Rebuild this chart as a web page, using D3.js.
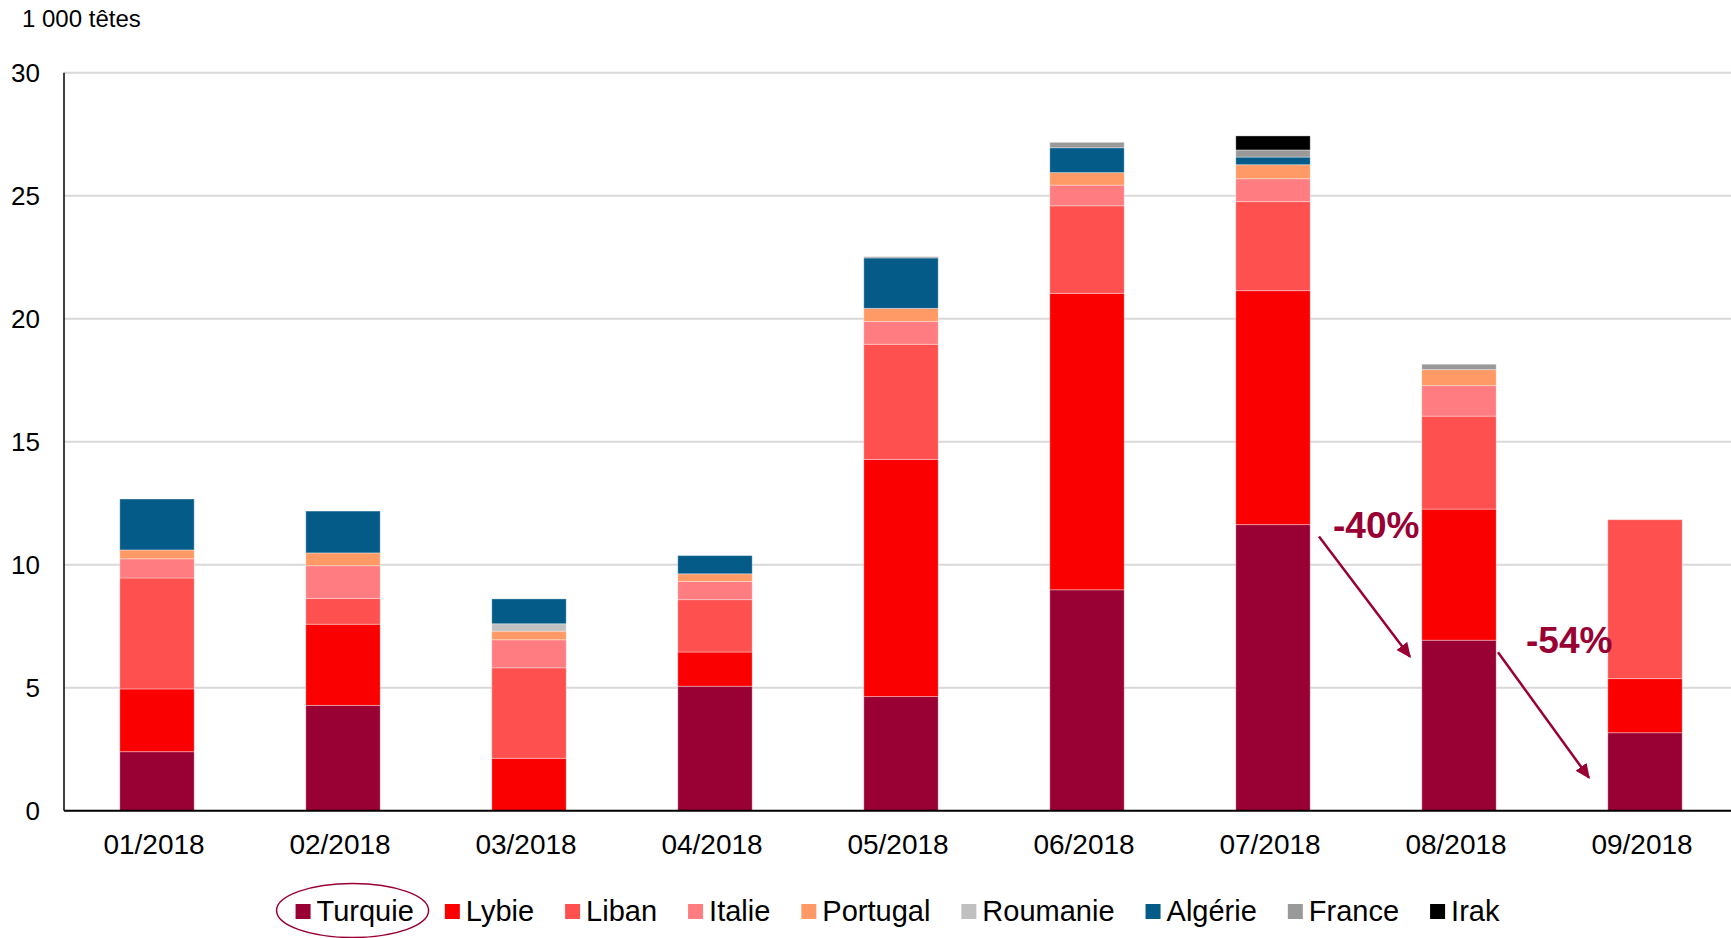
<!DOCTYPE html>
<html>
<head>
<meta charset="utf-8">
<script src="https://cdn.jsdelivr.net/npm/d3@7"></script>
<style>
  body { margin: 0; background: #fff; }
  text { font-family: "Liberation Sans", Arial, sans-serif; }
</style>
</head>
<body>
<div id="chart"></div>
<script>
const months = ["01/2018", "02/2018", "03/2018", "04/2018", "05/2018", "06/2018", "07/2018", "08/2018", "09/2018"];
const countries = ["Turquie", "Lybie", "Liban", "Italie", "Portugal", "Roumanie", "Algérie", "France", "Irak"];
const colors = ["#990033", "#FA0000", "#FF5050", "#FF7C80", "#FF9966", "#C0C0C0", "#045B88", "#999999", "#000000"];

const turquie  = [2.40, 4.28, 0.00, 5.06, 4.64, 8.98, 11.63, 6.93, 3.17];
const lybie    = [2.55, 3.30, 2.13, 1.39, 9.64, 12.05, 9.51, 5.33, 2.20];
const liban    = [4.51, 1.05, 3.68, 2.13, 4.68, 3.56, 3.62, 3.78, 6.46];
const italie   = [0.78, 1.33, 1.14, 0.74, 0.93, 0.84, 0.93, 1.24, 0.00];
const portugal = [0.36, 0.52, 0.35, 0.31, 0.53, 0.51, 0.57, 0.65, 0.00];
const roumanie = [0.00, 0.00, 0.30, 0.00, 0.00, 0.00, 0.00, 0.00, 0.00];
const algerie  = [2.07, 1.70, 1.01, 0.74, 2.05, 1.01, 0.31, 0.00, 0.00];
const france   = [0.00, 0.00, 0.00, 0.00, 0.05, 0.22, 0.29, 0.22, 0.00];
const irak     = [0.00, 0.00, 0.00, 0.00, 0.00, 0.00, 0.57, 0.00, 0.00];

const yTicks = [0, 5, 10, 15, 20, 25, 30];

// Turquie change annotations: from month index, label
const annoFrom = [6, 7];
const annoLabels = ["-40%", "-54%"];

const series = [turquie, lybie, liban, italie, portugal, roumanie, algerie, france, irak];

const width = 1731, height = 938;
const plotLeft = 64, plotRight = 1738, plotTop = 72.7, plotBottom = 810.7;

const svg = d3.select("#chart").append("svg")
    .attr("width", width)
    .attr("height", height);

const x = d3.scaleBand()
    .domain(months)
    .range([plotLeft, plotRight])
    .paddingInner(0.6)
    .paddingOuter(0.3);

const y = d3.scaleLinear()
    .domain([0, 30])
    .range([plotBottom, plotTop]);

// unit label
svg.append("text")
    .attr("x", 22)
    .attr("y", 27)
    .attr("font-size", 24)
    .attr("fill", "#000")
    .text("1 000 têtes");

// gridlines
svg.append("g")
    .selectAll("line")
    .data(yTicks.filter(d => d > 0))
    .enter().append("line")
    .attr("x1", plotLeft)
    .attr("x2", width)
    .attr("y1", d => y(d))
    .attr("y2", d => y(d))
    .attr("stroke", "#D9D9D9")
    .attr("stroke-width", 2);

// y labels
svg.append("g")
    .selectAll("text")
    .data(yTicks)
    .enter().append("text")
    .attr("x", 40)
    .attr("y", d => y(d))
    .attr("dy", "0.36em")
    .attr("text-anchor", "end")
    .attr("font-size", 26)
    .text(d => d);

// stacked bars
const rows = months.map((m, i) => {
    const r = { month: m };
    countries.forEach((c, k) => r[c] = series[k][i]);
    return r;
});
const stack = d3.stack().keys(countries)(rows);

svg.append("g")
    .selectAll("g")
    .data(stack)
    .enter().append("g")
    .attr("fill", (d, i) => colors[i])
    .selectAll("rect")
    .data(d => d.filter(s => s[1] - s[0] > 0))
    .enter().append("rect")
    .attr("x", d => x(d.data.month))
    .attr("width", x.bandwidth())
    .attr("y", d => y(d[1]))
    .attr("height", d => y(d[0]) - y(d[1]))
    .attr("stroke", "#fff")
    .attr("stroke-opacity", 0.35)
    .attr("stroke-width", 1);

// axes lines
svg.append("line")
    .attr("x1", plotLeft).attr("x2", plotLeft)
    .attr("y1", y(30)).attr("y2", y(0))
    .attr("stroke", "#000")
    .attr("stroke-width", 1.5);

svg.append("line")
    .attr("x1", plotLeft).attr("x2", width)
    .attr("y1", y(0)).attr("y2", y(0))
    .attr("stroke", "#000")
    .attr("stroke-width", 2);

// x labels
svg.append("g")
    .selectAll("text")
    .data(months)
    .enter().append("text")
    .attr("x", d => x(d) + x.bandwidth() / 2 - 3)
    .attr("y", 854)
    .attr("text-anchor", "middle")
    .attr("font-size", 28)
    .text(d => d);

// annotations
const annoColor = "#990033";
svg.append("defs").append("marker")
    .attr("id", "arrow")
    .attr("viewBox", "0 -5 10 10")
    .attr("refX", 9)
    .attr("refY", 0)
    .attr("markerWidth", 6)
    .attr("markerHeight", 6)
    .attr("markerUnits", "strokeWidth")
    .attr("orient", "auto")
    .append("path")
    .attr("d", "M0,-4.5L10,0L0,4.5Z")
    .attr("fill", annoColor);

annoFrom.forEach((i, k) => {
    const c0 = x(months[i]) + x.bandwidth() / 2;
    const c1 = x(months[i + 1]) + x.bandwidth() / 2;
    const y0 = y(turquie[i]);
    const y1 = y(turquie[i + 1]);
    const x1 = k === 0 ? c1 - 49 : c1 - 56;
    const ye = k === 0 ? y1 + 16.5 : y(1.34);
    svg.append("line")
        .attr("x1", k === 0 ? c0 + 46 : c0 + 39)
        .attr("y1", y0 + 12)
        .attr("x2", x1)
        .attr("y2", ye)
        .attr("stroke", annoColor)
        .attr("stroke-width", 2.5)
        .attr("marker-end", "url(#arrow)");
    svg.append("text")
        .attr("x", k === 0 ? c0 + 60 : c0 + 67)
        .attr("y", y0 + 13)
        .attr("font-size", 37)
        .attr("font-weight", "bold")
        .attr("fill", annoColor)
        .text(annoLabels[k]);
});

// legend
const legend = svg.append("g");
const items = legend.selectAll("g")
    .data(countries)
    .enter().append("g");
items.append("rect")
    .attr("width", 15)
    .attr("height", 15)
    .attr("y", 904)
    .attr("fill", (d, i) => colors[i]);
items.append("text")
    .attr("x", 21)
    .attr("y", 921)
    .attr("font-size", 29)
    .text(d => d);

const gap = 31;
let pos = 0;
const offsets = [];
items.each(function() {
    offsets.push(pos);
    const w = d3.select(this).select("text").node().getComputedTextLength();
    pos += 21 + w + gap;
});
const total = pos - gap;
const start = (plotLeft + width) / 2 - total / 2;
items.attr("transform", (d, i) => `translate(${start + offsets[i]},0)`);

// circle round Turquie
legend.append("ellipse")
    .attr("cx", start + 57)
    .attr("cy", 910.5)
    .attr("rx", 76)
    .attr("ry", 27)
    .attr("fill", "none")
    .attr("stroke", annoColor)
    .attr("stroke-width", 1.5);
</script>
</body>
</html>
